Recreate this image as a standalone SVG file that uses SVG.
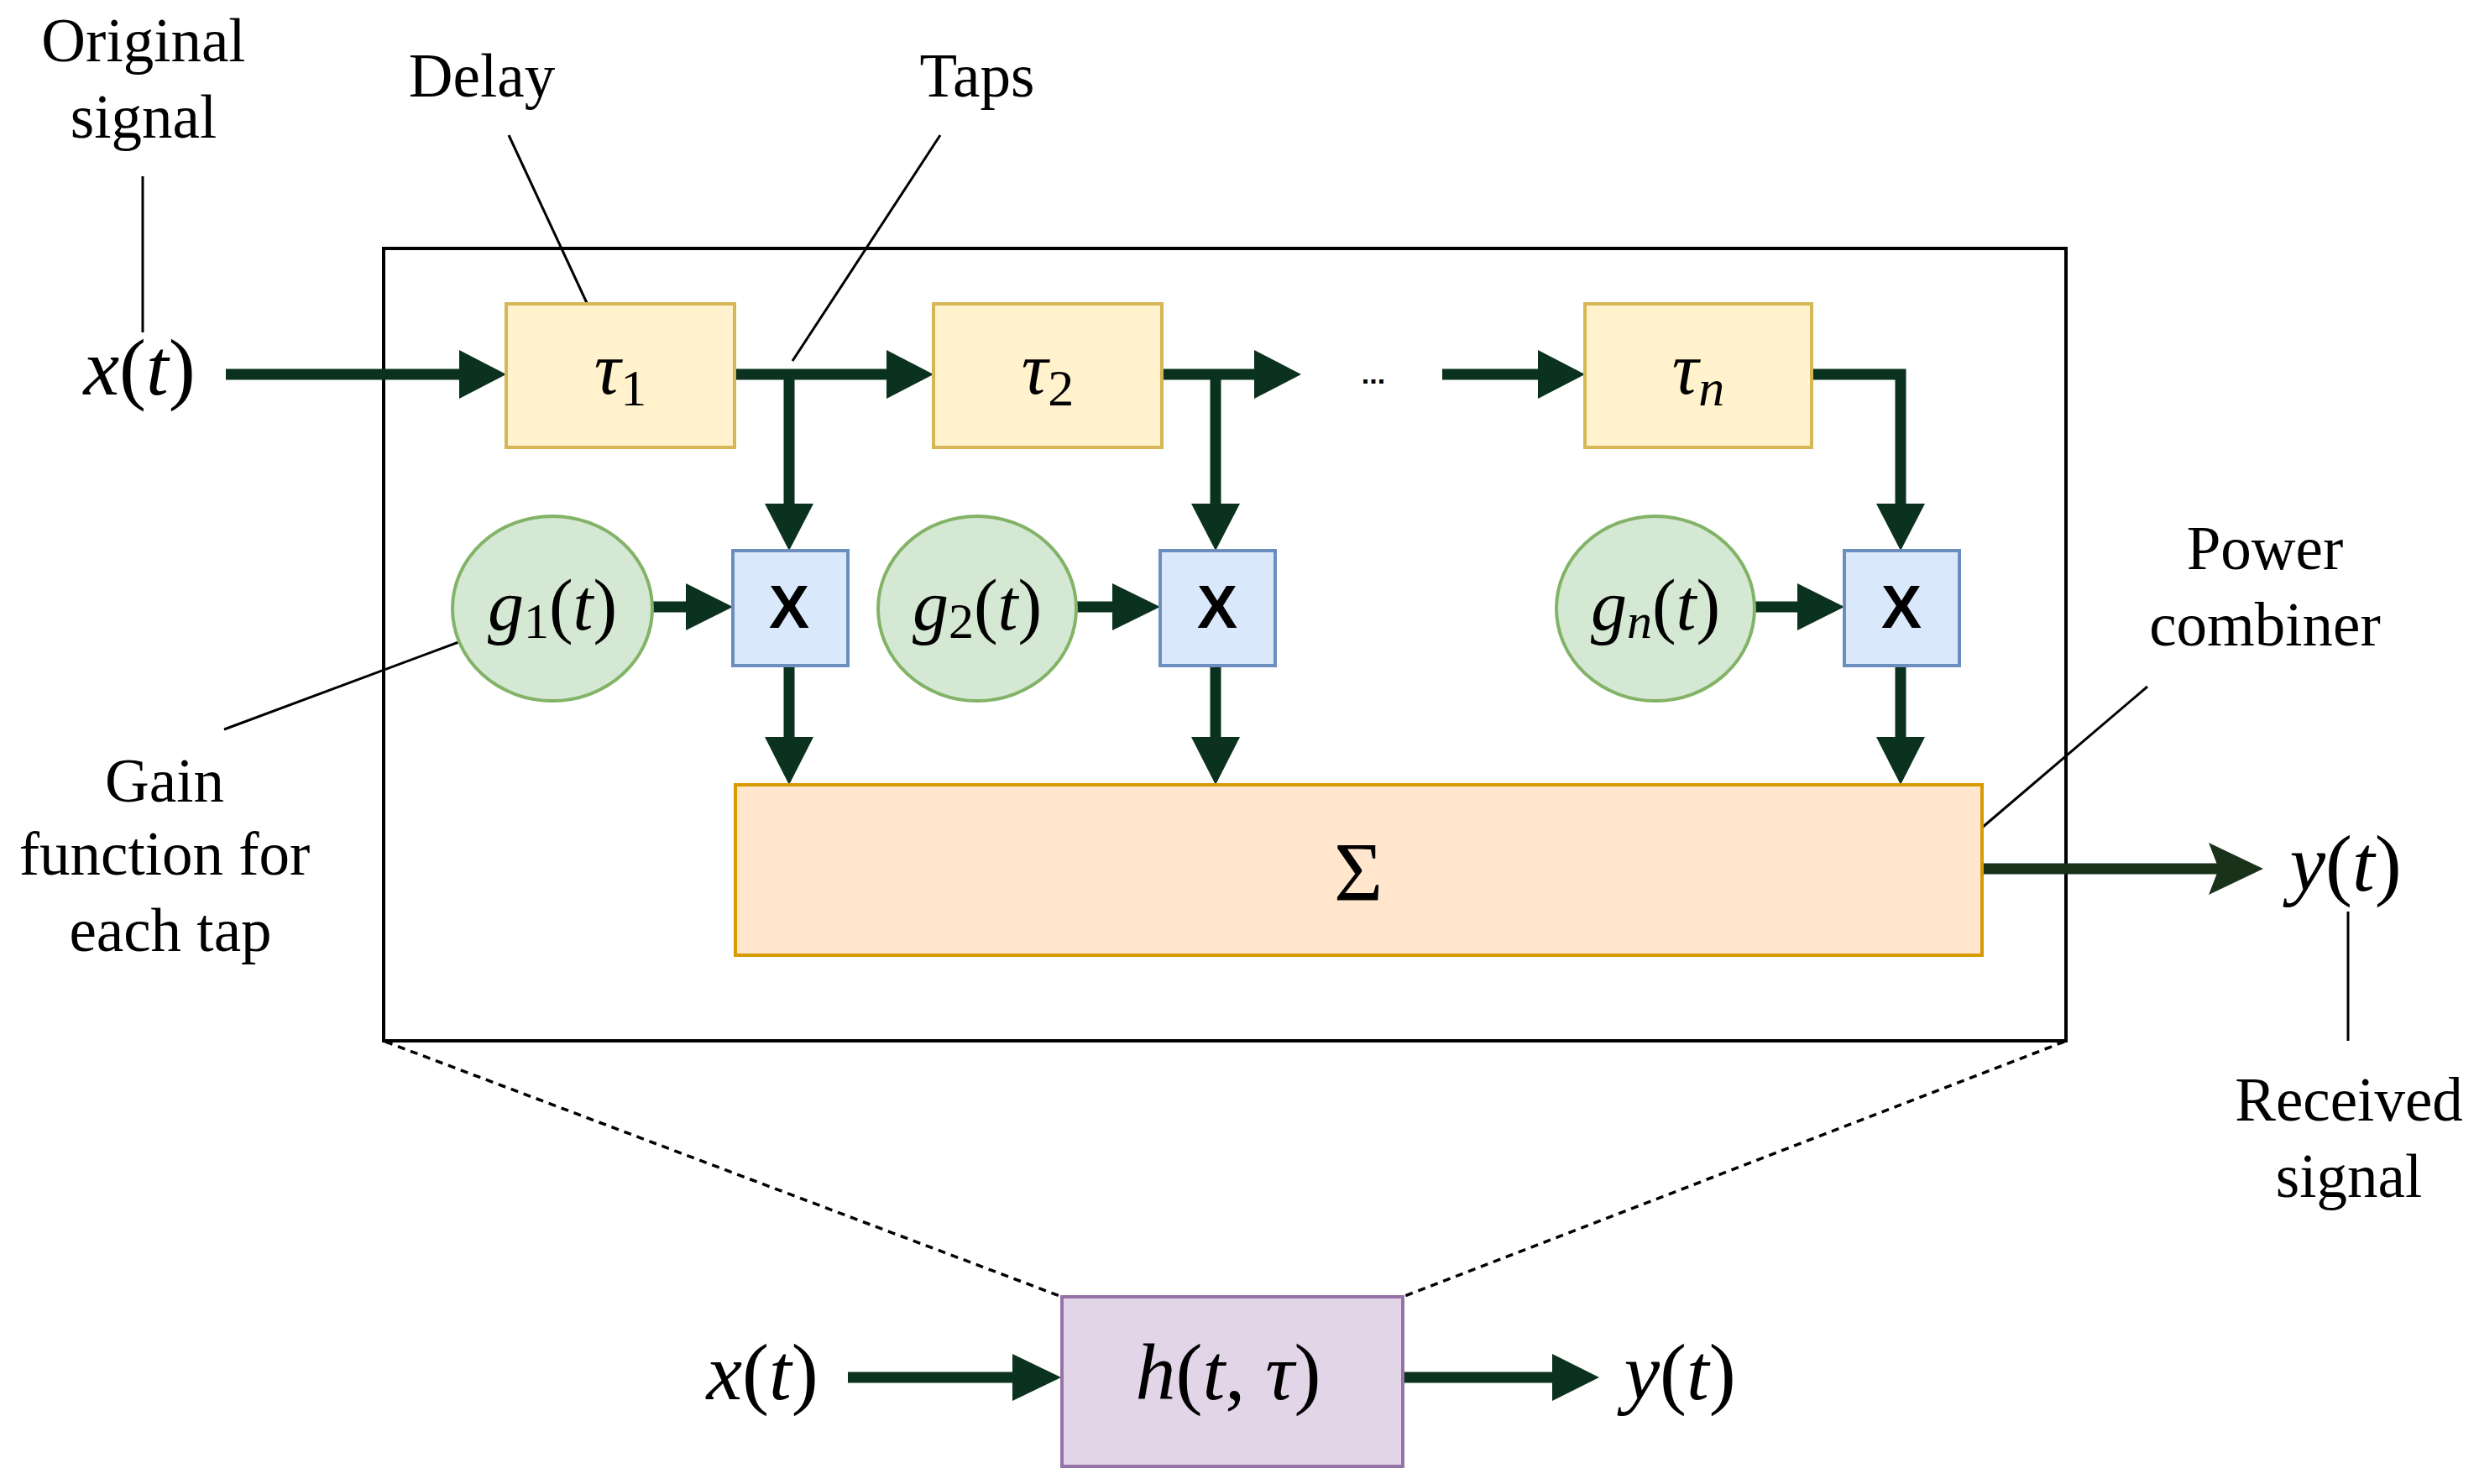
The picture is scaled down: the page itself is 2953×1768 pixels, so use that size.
<svg xmlns="http://www.w3.org/2000/svg" width="2953" height="1768" viewBox="0 0 2953 1768">
<style>
.lbl{font-family:"Liberation Serif","Times New Roman",serif;font-size:73px;fill:#000;text-anchor:middle}
.math{font-family:"Liberation Serif","Times New Roman",serif;font-size:96px;fill:#000;text-anchor:middle}
.gm{font-family:"Liberation Serif","Times New Roman",serif;font-size:86px;fill:#000;text-anchor:middle}
.tau{font-family:"Liberation Serif","Times New Roman",serif;font-size:88px;fill:#000;text-anchor:middle}
.i{font-style:italic}
.xl{font-family:"Liberation Sans",Arial,sans-serif;font-size:72px;font-weight:bold;fill:#000;text-anchor:middle}
.delay{fill:#fff2cc;stroke:#d6b656;stroke-width:4}
.mult{fill:#dae8fc;stroke:#6c8ebf;stroke-width:4}
.gain{fill:#d5e8d4;stroke:#82b366;stroke-width:4}
.sum{fill:#ffe6cc;stroke:#d79b00;stroke-width:4}
.chan{fill:#e1d5e7;stroke:#9673a6;stroke-width:4}
.wire{fill:none;stroke:#0a321e;stroke-width:13}
.head{fill:#0a321e}
.leader{fill:none;stroke:#000;stroke-width:3}
.dash{fill:none;stroke:#000;stroke-width:3.5;stroke-dasharray:9 7}
</style>
<rect width="2953" height="1768" fill="#fff"/>

<g id="frame"><rect x="457" y="296" width="2004" height="944" fill="none" stroke="#000" stroke-width="4"/></g>

<g id="connectors">
  <!-- input to tau1 -->
  <line class="wire" x1="269" y1="446" x2="550" y2="446"/>
  <polygon class="head" points="547,417 603,446 547,475"/>
  <!-- tau1 to tau2 -->
  <line class="wire" x1="875" y1="446" x2="1059" y2="446"/>
  <polygon class="head" points="1056,417 1112,446 1056,475"/>
  <!-- tap 1 -->
  <line class="wire" x1="940" y1="440" x2="940" y2="603"/>
  <polygon class="head" points="911,600 940,656 969,600"/>
  <!-- tau2 to dots -->
  <line class="wire" x1="1384" y1="446" x2="1497" y2="446"/>
  <polygon class="head" points="1494,417 1550,446 1494,475"/>
  <!-- tap 2 -->
  <line class="wire" x1="1448" y1="440" x2="1448" y2="603"/>
  <polygon class="head" points="1419,600 1448,656 1477,600"/>
  <!-- dots to taun -->
  <line class="wire" x1="1718" y1="446" x2="1835" y2="446"/>
  <polygon class="head" points="1832,417 1888,446 1832,475"/>
  <!-- taun to Xn -->
  <polyline class="wire" points="2158,446 2264,446 2264,603"/>
  <polygon class="head" points="2235,600 2264,656 2293,600"/>
  <!-- gains to multipliers -->
  <line class="wire" x1="777" y1="723" x2="820" y2="723"/>
  <polygon class="head" points="817,695 873,723 817,751"/>
  <line class="wire" x1="1282" y1="723" x2="1328" y2="723"/>
  <polygon class="head" points="1325,695 1382,723 1325,751"/>
  <line class="wire" x1="2091" y1="723" x2="2144" y2="723"/>
  <polygon class="head" points="2141,695 2197,723 2141,751"/>
  <!-- multipliers to sum -->
  <line class="wire" x1="940" y1="793" x2="940" y2="881"/>
  <polygon class="head" points="911,878 940,935 969,878"/>
  <line class="wire" x1="1448" y1="793" x2="1448" y2="881"/>
  <polygon class="head" points="1419,878 1448,935 1477,878"/>
  <line class="wire" x1="2264" y1="793" x2="2264" y2="881"/>
  <polygon class="head" points="2235,878 2264,935 2293,878"/>
  <!-- output -->
  <line x1="2361" y1="1035" x2="2650" y2="1035" stroke="#19321a" stroke-width="13"/>
  <polygon points="2696,1035 2631,1004 2643,1035 2631,1066" fill="#19321a"/>
  <!-- bottom channel -->
  <line class="wire" x1="1010" y1="1641" x2="1209" y2="1641"/>
  <polygon class="head" points="1206,1613 1264,1641 1206,1669"/>
  <line class="wire" x1="1671" y1="1641" x2="1852" y2="1641"/>
  <polygon class="head" points="1849,1613 1905,1641 1849,1669"/>
  <!-- zoom dashed lines -->
  <line class="dash" x1="459" y1="1241" x2="1265" y2="1545"/>
  <line class="dash" x1="2459" y1="1241" x2="1671" y2="1545"/>
  <!-- leaders -->
  <line class="leader" x1="170" y1="210" x2="170" y2="396"/>
  <line class="leader" x1="606" y1="161" x2="700" y2="363"/>
  <line class="leader" x1="1120" y1="161" x2="944" y2="430"/>
  <line class="leader" x1="267" y1="869" x2="549" y2="764"/>
  <line class="leader" x1="2558" y1="818" x2="2361" y2="986"/>
  <line class="leader" x1="2797" y1="1086" x2="2797" y2="1240"/>
</g>

<g id="tau1"><rect class="delay" x="603" y="362" width="272" height="171"/>
  <text class="tau" x="739" y="469"><tspan class="i">τ</tspan><tspan font-size="62" dy="14">1</tspan></text></g>
<g id="tau2"><rect class="delay" x="1112" y="362" width="272" height="171"/>
  <text class="tau" x="1248" y="469"><tspan class="i">τ</tspan><tspan font-size="62" dy="14">2</tspan></text></g>
<g id="taun"><rect class="delay" x="1888" y="362" width="270" height="171"/>
  <text class="tau" x="2023" y="469"><tspan class="i">τ</tspan><tspan class="i" font-size="62" dy="14">n</tspan></text></g>
<g id="dots"><text x="1636" y="457" font-family="Liberation Sans,Arial,sans-serif" font-size="34" font-weight="bold" text-anchor="middle">...</text></g>

<g id="g1"><ellipse class="gain" cx="658" cy="725" rx="119" ry="110"/>
  <text class="gm" x="658" y="750"><tspan class="i">g</tspan><tspan font-size="60" dy="10">1</tspan><tspan dy="-10">(</tspan><tspan class="i">t</tspan>)</text></g>
<g id="g2"><ellipse class="gain" cx="1164" cy="725" rx="118" ry="110"/>
  <text class="gm" x="1164" y="750"><tspan class="i">g</tspan><tspan font-size="60" dy="10">2</tspan><tspan dy="-10">(</tspan><tspan class="i">t</tspan>)</text></g>
<g id="gn"><ellipse class="gain" cx="1972" cy="725" rx="118" ry="110"/>
  <text class="gm" x="1972" y="750"><tspan class="i">g</tspan><tspan class="i" font-size="60" dy="10">n</tspan><tspan dy="-10">(</tspan><tspan class="i">t</tspan>)</text></g>

<g id="x1"><rect class="mult" x="873" y="656" width="137" height="137"/><text class="xl" x="940" y="748">X</text></g>
<g id="x2"><rect class="mult" x="1382" y="656" width="137" height="137"/><text class="xl" x="1450" y="748">X</text></g>
<g id="xn"><rect class="mult" x="2197" y="656" width="137" height="137"/><text class="xl" x="2265" y="748">X</text></g>

<g id="sum"><rect class="sum" x="876" y="935" width="1485" height="203"/>
  <text x="1618" y="1072" font-family="Liberation Serif,serif" font-size="100" text-anchor="middle">Σ</text></g>

<g id="channel"><rect class="chan" x="1265" y="1545" width="406" height="202"/>
  <text class="math" x="1463" y="1667"><tspan class="i">h</tspan>(<tspan class="i">t</tspan>, <tspan class="i">τ</tspan>)</text></g>

<g id="labels">
  <text class="lbl" x="171" y="73">Original</text>
  <text class="lbl" x="171" y="164">signal</text>
  <text class="lbl" x="574" y="115">Delay</text>
  <text class="lbl" x="1164" y="115">Taps</text>
  <text class="lbl" x="2698" y="678">Power</text>
  <text class="lbl" x="2698" y="769">combiner</text>
  <text class="lbl" x="196" y="955">Gain</text>
  <text class="lbl" x="196" y="1042">function for</text>
  <text class="lbl" x="203" y="1133">each tap</text>
  <text class="lbl" x="2798" y="1335">Received</text>
  <text class="lbl" x="2798" y="1426">signal</text>
  <text class="math" x="166" y="470"><tspan class="i">x</tspan>(<tspan class="i">t</tspan>)</text>
  <text class="math" x="2794" y="1061"><tspan class="i">y</tspan>(<tspan class="i">t</tspan>)</text>
  <text class="math" x="908" y="1667"><tspan class="i">x</tspan>(<tspan class="i">t</tspan>)</text>
  <text class="math" x="2001" y="1667"><tspan class="i">y</tspan>(<tspan class="i">t</tspan>)</text>
</g>
</svg>
